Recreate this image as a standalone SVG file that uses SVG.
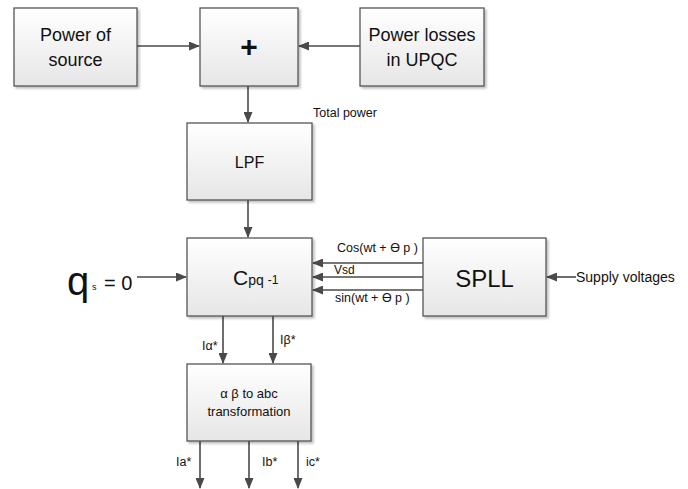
<svg xmlns="http://www.w3.org/2000/svg" width="688" height="489" viewBox="0 0 688 489">
<defs>
<linearGradient id="g" x1="0" y1="0" x2="0" y2="1">
<stop offset="0" stop-color="#ffffff"/>
<stop offset="1" stop-color="#e6e6e6"/>
</linearGradient>
<filter id="sh" x="-10%" y="-10%" width="130%" height="130%">
<feDropShadow dx="2" dy="2" stdDeviation="1.2" flood-color="#000" flood-opacity="0.25"/>
</filter>
<marker id="ah" markerWidth="11" markerHeight="9" refX="10" refY="4.5" orient="auto" markerUnits="userSpaceOnUse">
<path d="M0,0 L11,4.5 L0,9 Z" fill="#4a4a4a"/>
</marker>
</defs>
<style>
.box{fill:url(#g);stroke:#555;stroke-width:1.3;filter:url(#sh)}
.c{stroke:#4a4a4a;stroke-width:1.6;fill:none;marker-end:url(#ah)}
text{font-family:"Liberation Sans",Arial,sans-serif;fill:#111}
.lbl{font-size:12px}
.sig{font-size:12.5px}
</style>
<rect width="688" height="489" fill="#fff"/>
<g id="connectors">
<line class="c" x1="137" y1="46" x2="199" y2="46"/>
<line class="c" x1="360" y1="46" x2="299" y2="46"/>
<line class="c" x1="248" y1="86" x2="248" y2="122"/>
<line class="c" x1="248" y1="200" x2="248" y2="237"/>
<line class="c" x1="137" y1="277" x2="186" y2="277"/>
<line class="c" x1="423" y1="263" x2="313" y2="263"/>
<line class="c" x1="423" y1="277" x2="313" y2="277"/>
<line class="c" x1="423" y1="290" x2="313" y2="290"/>
<line class="c" x1="576" y1="277" x2="547" y2="277"/>
<line class="c" x1="223" y1="316" x2="223" y2="363"/>
<line class="c" x1="273" y1="316" x2="273" y2="363"/>
<line class="c" x1="200" y1="441" x2="200" y2="488"/>
<line class="c" x1="249" y1="441" x2="249" y2="488"/>
<line class="c" x1="298" y1="441" x2="298" y2="488"/>
</g>
<g id="source">
<rect class="box" x="14" y="8" width="123" height="78"/>
<text x="75.5" y="41" font-size="18" text-anchor="middle">Power of</text>
<text x="75.5" y="66" font-size="18" text-anchor="middle">source</text>
</g>
<g id="plus">
<rect class="box" x="200" y="8" width="98" height="78"/>
<text x="249" y="57" font-size="30" font-weight="bold" text-anchor="middle">+</text>
</g>
<g id="losses">
<rect class="box" x="360" y="8" width="124" height="78"/>
<text x="422" y="41" font-size="18" text-anchor="middle">Power losses</text>
<text x="422" y="66" font-size="18" text-anchor="middle">in UPQC</text>
</g>
<text x="313" y="117" style="font-size:12.5px">Total power</text>
<g id="lpf">
<rect class="box" x="187" y="123" width="125" height="77"/>
<text x="249.5" y="168" font-size="16" text-anchor="middle">LPF</text>
</g>
<g id="cpq">
<rect class="box" x="187" y="238" width="125" height="78"/>
<text x="233" y="285" font-size="21">C<tspan font-size="14">pq</tspan><tspan font-size="12" dx="4" dy="-1">-1</tspan></text>
</g>
<g id="qs">
<text x="67" y="295" font-size="40">q</text>
<text x="92" y="290" font-size="9">s</text>
<text x="104" y="290" font-size="20">= 0</text>
</g>
<g id="spll">
<rect class="box" x="423" y="238" width="123" height="78"/>
<text x="484.5" y="287" font-size="24" text-anchor="middle">SPLL</text>
</g>
<text class="sig" x="337" y="252">Cos(wt + ϴ p )</text>
<text class="lbl" x="334" y="274">Vsd</text>
<text class="sig" x="335" y="302">sin(wt + ϴ p )</text>
<text x="576" y="282" style="font-size:14px">Supply voltages</text>
<text class="sig" x="202" y="350">Iα*</text>
<text class="sig" x="280" y="344">Iβ*</text>
<g id="transform">
<rect class="box" x="187" y="364" width="124" height="77"/>
<text x="249" y="398" font-size="13" text-anchor="middle">α β to abc</text>
<text x="249" y="416" font-size="13" text-anchor="middle">transformation</text>
</g>
<text class="sig" x="176" y="466">Ia*</text>
<text class="sig" x="262" y="466">Ib*</text>
<text class="sig" x="306" y="466">ic*</text>
</svg>
